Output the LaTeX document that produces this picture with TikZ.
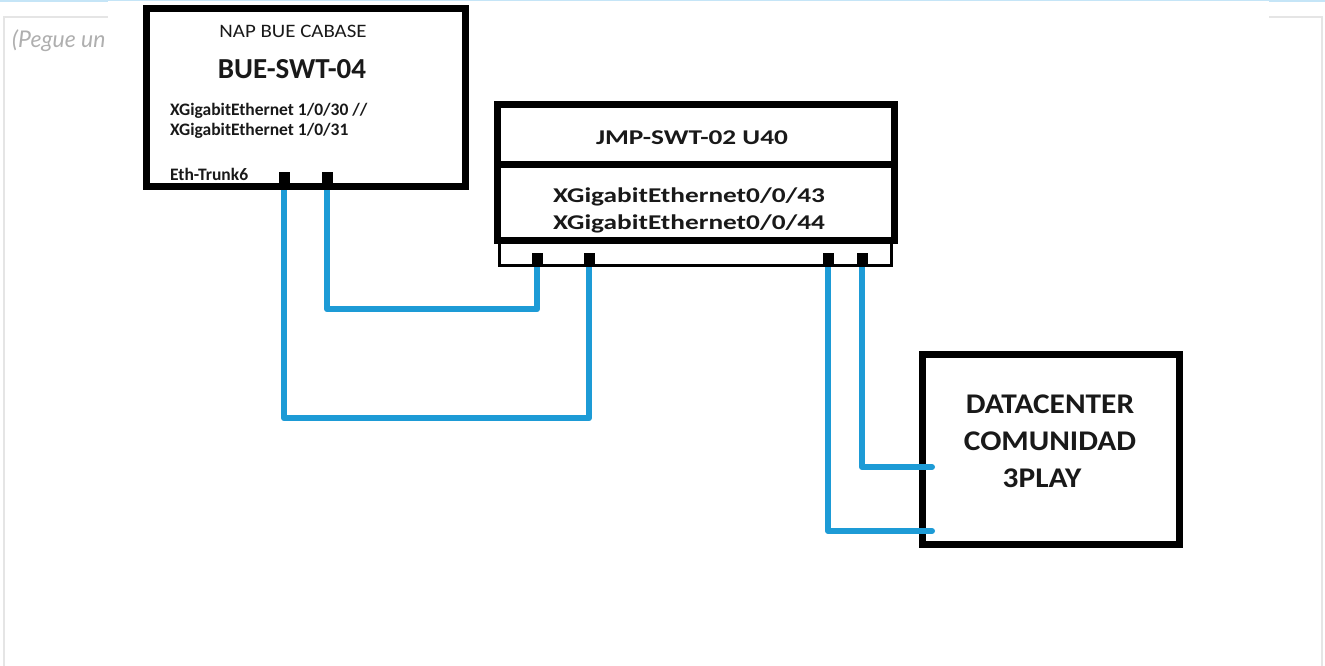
\documentclass[tikz,border=0pt]{standalone}
\usepackage{fontspec}
\setmainfont{Carlito}
\newfontfamily\latofont{Lato}
\newfontfamily\ancho[FakeStretch=1.1]{Carlito}
\newfontfamily\anchojmp[FakeStretch=1.3]{Carlito}
\usetikzlibrary{positioning,calc}
\definecolor{cableazul}{RGB}{29,155,214}
\definecolor{marcogris}{RGB}{229,229,229}
\definecolor{lineaazul}{RGB}{197,229,247}
\definecolor{textogris}{RGB}{175,175,175}
\pgfdeclarelayer{fondo}
\pgfsetlayers{fondo,main}

\begin{document}
\begin{tikzpicture}[x=1pt,y=-1pt,
  equipo/.style={draw, line width=7pt, inner sep=0pt},
  bandeja/.style={draw, line width=3pt, inner sep=0pt},
  cable/.style={draw=cableazul, line width=6pt, line cap=round, line join=round},
  puerto/.style={fill=black, inner sep=0pt, minimum width=11pt, minimum height=12pt},
  rotulo/.style={inner sep=0pt, text=black!90}]
\useasboundingbox (0,0) rectangle (1325,666);
% Switch BUE
\node[equipo, minimum width=318.5pt, minimum height=177.5pt] (bue) at (305.75,97.25) {};
\node[rotulo, font=\ancho\fontsize{19}{22}\selectfont] (buesitio) at (293,31) {NAP BUE CABASE};
\node[rotulo, font=\bfseries\fontsize{29}{32}\selectfont] (buenombre) at (292,69) {BUE-SWT-04};
\node[rotulo, font=\bfseries\fontsize{17.5}{20}\selectfont, align=left, anchor=west] (bueinterfaz) at (170,121) {XGigabitEthernet 1/0/30 //\\XGigabitEthernet 1/0/31};
\node[rotulo, font=\bfseries\fontsize{17.5}{20}\selectfont, anchor=west] (buetrunk) at (170,174) {Eth-Trunk6};
\node[puerto] (bueA) at (284,178) {};
\node[puerto] (bueB) at (327,178) {};
% Switch JMP
\node[bandeja, minimum width=392pt, minimum height=27pt] (jmpbandeja) at (695,251.5) {};
\node[equipo, minimum width=397pt, minimum height=59.5pt] (jmpnombre) at (695.5,134.75) {};
\node[equipo, minimum width=397pt, minimum height=75.5pt] (jmppuertos) at (695.5,202.25) {};
\node[rotulo, font=\anchojmp\bfseries\fontsize{21}{25}\selectfont] (jmptitulo) at (692,138) {JMP-SWT-02 U40};
\node[rotulo, font=\anchojmp\bfseries\fontsize{21}{27}\selectfont, align=center] (jmpinterfaz) at (689,210) {XGigabitEthernet0/0/43\\XGigabitEthernet0/0/44};
\node[puerto] (jmpA) at (537,259) {};
\node[puerto] (jmpB) at (589,259) {};
\node[puerto] (jmpC) at (828,259) {};
\node[puerto] (jmpD) at (862,259) {};
\begin{pgfonlayer}{fondo}
% Pagina de fondo
\draw[lineaazul, line width=2pt] (0,1) -- (1325,1);
\draw[marcogris, line width=2pt] (4,666) -- (4,17) -- (1322,17) -- (1322,666);
\node[font=\latofont\itshape\fontsize{23}{26}\selectfont, text=textogris, anchor=west, inner sep=0pt] (aviso) at (12,41) {(Pegue un};
\fill[white] (108,1) rectangle (1269,666);
% Datacenter
\node[equipo, minimum width=257pt, minimum height=190pt] (dc) at (1050.5,449) {};
\node[rotulo, font=\ancho\bfseries\fontsize{28.5}{37}\selectfont, align=center] (dctexto) at (1050,441) {DATACENTER\\COMUNIDAD\\3PLAY\hspace*{16pt}};
\coordinate (dcentradaA) at (932,467);
\coordinate (dcentradaB) at (932,531);
% Cables
\draw[cable] (bueB.south) -- ++(0,125) -| (jmpA.south);
\draw[cable] (bueA.south) -- ++(0,234) -| (jmpB.south);
\draw[cable] (jmpD.south) |- (dcentradaA);
\draw[cable] (jmpC.south) |- (dcentradaB);
\end{pgfonlayer}
\end{tikzpicture}
\end{document}
